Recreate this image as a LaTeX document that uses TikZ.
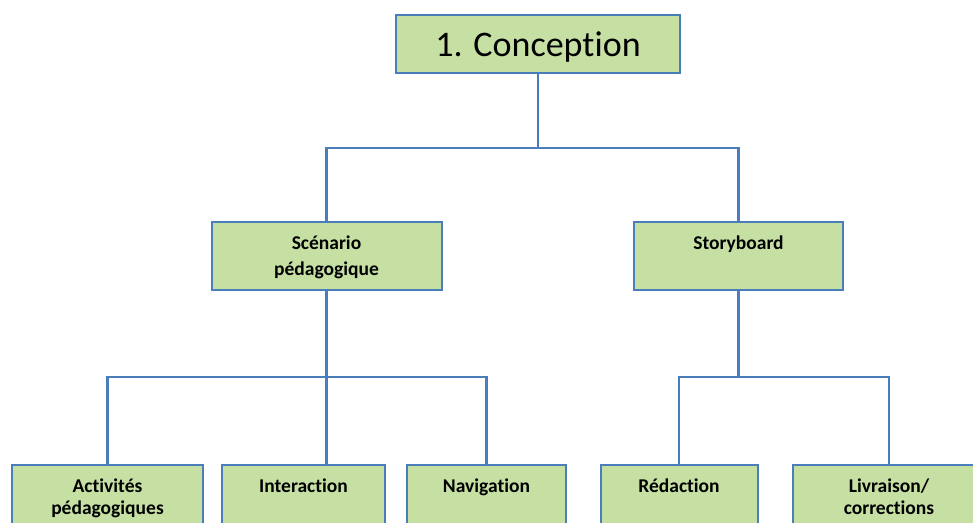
\documentclass[tikz,border=0pt]{standalone}
\usepackage{fontspec}
\setmainfont[Ligatures={NoCommon,NoContextual},RawFeature={-liga;-clig;-calt;-rlig}]{Carlito}
\definecolor{boxfill}{HTML}{C6E0A4}
\definecolor{boxline}{HTML}{4A7EBB}
\begin{document}
\begin{tikzpicture}[x=1pt,y=-1pt,
  box/.style={draw=boxline,fill=boxfill,line width=2pt,rectangle,inner sep=0pt},
  conn/.style={draw=boxline,line width=2.4pt},
  lbl/.style={font=\fontsize{19.5}{22}\selectfont\bfseries,anchor=base,inner sep=0pt},
  big/.style={font=\fontsize{36}{40}\selectfont,anchor=base,inner sep=0pt}]
\useasboundingbox (0,0) rectangle (973,522);
\clip (0,0) rectangle (973,522);
% boxes
\node[box,minimum width=284pt,minimum height=58pt] (top) at (538,44) {};
\node[box,minimum width=230pt,minimum height=68pt] (sc) at (326.5,256) {};
\node[box,minimum width=209pt,minimum height=68pt] (sb) at (738.5,256) {};
\node[box,minimum width=191pt,minimum height=70pt] (act) at (107.5,500) {};
\node[box,minimum width=163pt,minimum height=70pt] (int) at (303.5,500) {};
\node[box,minimum width=159pt,minimum height=70pt] (nav) at (486.5,500) {};
\node[box,minimum width=157pt,minimum height=70pt] (red) at (679,500) {};
\node[box,minimum width=192pt,minimum height=70pt] (liv) at (889,500) {};
% texts
\node[big] (t1) at (538,56) {1. Conception};
\node[lbl] (t2a) at (326.5,249) {Scénario};
\node[lbl] (t2b) at (326.5,275) {pédagogique};
\node[lbl] (t3) at (738.5,249) {Storyboard};
\node[lbl] (t4a) at (107.5,492) {Activités};
\node[lbl] (t4b) at (107.5,514) {pédagogiques};
\node[lbl] (t5) at (303.5,492) {Interaction};
\node[lbl] (t6) at (486.5,492) {Navigation};
\node[lbl] (t7) at (679,492) {Rédaction};
\node[lbl] (t8a) at (889,492) {Livraison/};
\node[lbl] (t8b) at (889,514) {corrections};
% connectors
\coordinate (j1) at (538,148);
\coordinate (j2) at (326.5,377);
\coordinate (j3) at (738.5,377);
\draw[conn] (top.south) -- (j1);
\draw[conn] (sc.north) |- (j1) -| (sb.north);
\draw[conn] (sc.south) -- (sc.south |- int.north);
\draw[conn] (act.north) |- (j2) -| (nav.north);
\draw[conn] (sb.south) -- (j3);
\draw[conn] (red.north) |- (j3) -| (liv.north);
\end{tikzpicture}
\end{document}
